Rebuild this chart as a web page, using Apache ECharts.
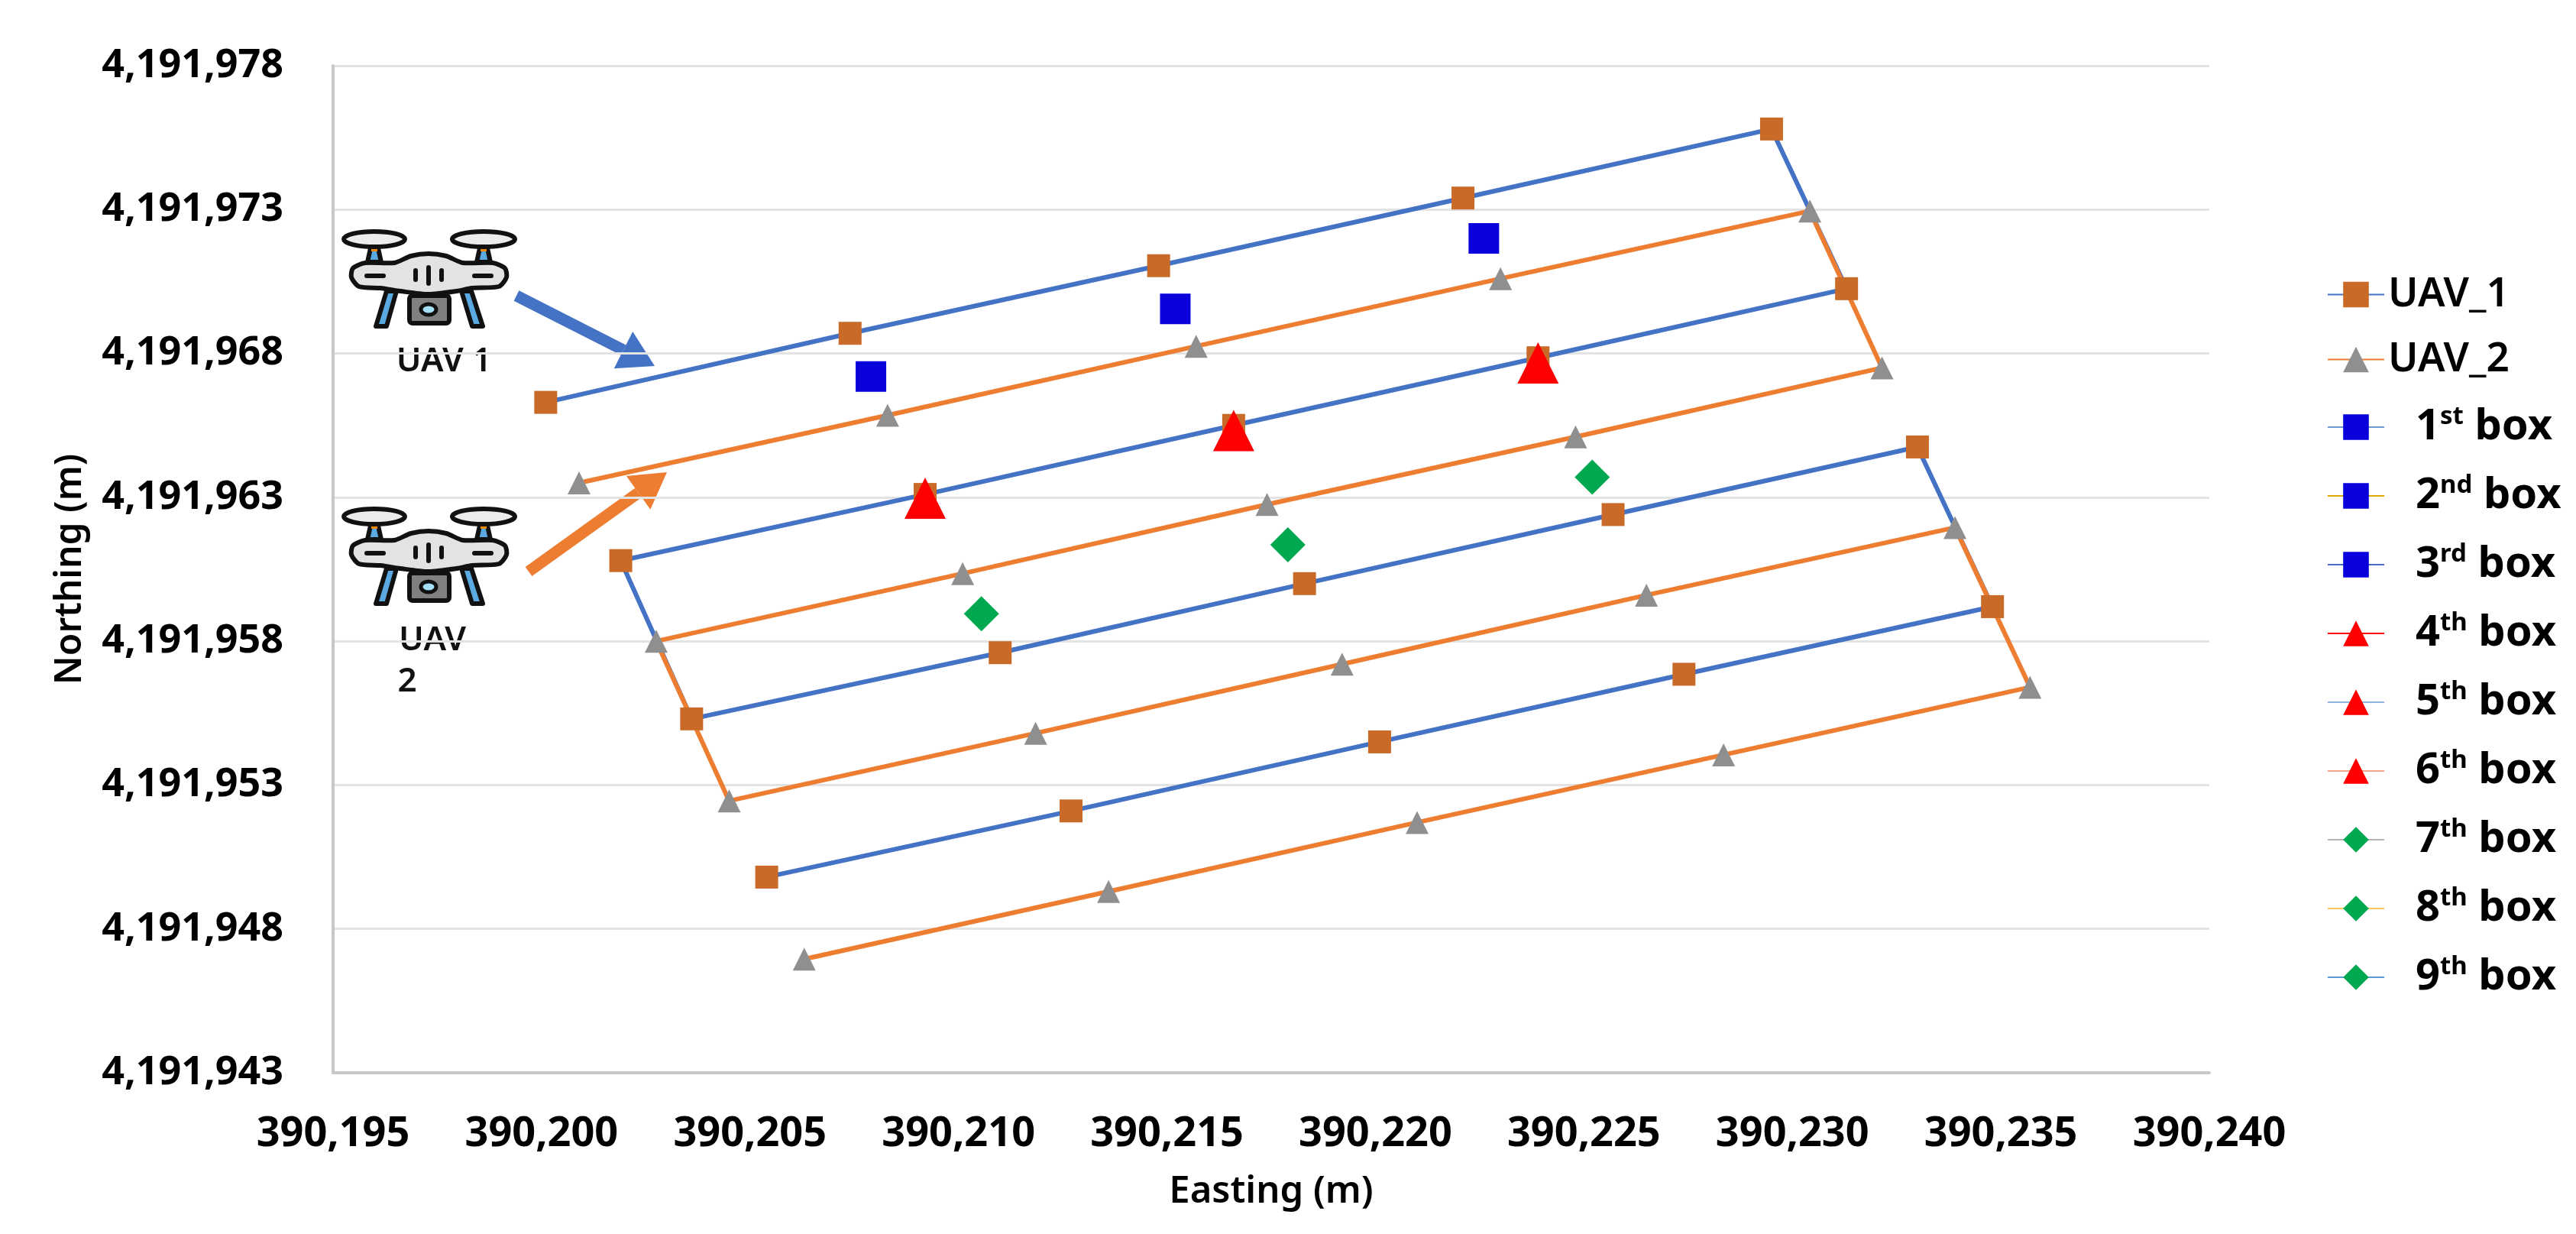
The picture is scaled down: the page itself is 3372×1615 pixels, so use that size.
<!DOCTYPE html>
<html>
<head>
<meta charset="utf-8">
<style>
  html, body { margin: 0; padding: 0; background: #fff; }
  #main { width: 3372px; height: 1615px; }
</style>
<script src="https://cdn.jsdelivr.net/npm/echarts@6/dist/echarts.min.js"></script>
</head>
<body>
<div id="main"></div>
<script>
// flight lines, in flight order
const uav1East = [390200.1, 390207.4, 390214.8, 390222.1, 390229.5, 390231.3, 390223.9, 390216.6, 390209.2, 390201.9, 390203.6, 390211.0, 390218.3, 390225.7, 390233.0, 390234.8, 390227.4, 390220.1, 390212.7, 390205.4];
const uav1North = [4191966.3, 4191968.7, 4191971.05, 4191973.4, 4191975.8, 4191970.25, 4191967.85, 4191965.5, 4191963.1, 4191960.8, 4191955.3, 4191957.6, 4191960, 4191962.4, 4191964.75, 4191959.2, 4191956.85, 4191954.5, 4191952.1, 4191949.8];
const uav2East = [390200.9, 390208.3, 390215.7, 390223, 390230.42, 390232.15, 390224.8, 390217.4, 390210.1, 390202.75, 390204.5, 390211.85, 390219.2, 390226.5, 390233.9, 390235.7, 390228.35, 390221, 390213.6, 390206.3];
const uav2North = [4191963.5, 4191965.85, 4191968.25, 4191970.6, 4191972.95, 4191967.5, 4191965.1, 4191962.75, 4191960.35, 4191958, 4191952.45, 4191954.8, 4191957.2, 4191959.6, 4191961.95, 4191956.4, 4191954.05, 4191951.7, 4191949.3, 4191946.95];

const boxNames = ['1st box', '2nd box', '3rd box', '4th box', '5th box', '6th box', '7th box', '8th box', '9th box'];
const boxEast = [390207.9, 390215.2, 390222.6, 390209.2, 390216.6, 390223.9, 390210.55, 390217.9, 390225.2];
const boxNorth = [4191967.2, 4191969.55, 4191972, 4191962.97, 4191965.32, 4191967.67, 4191958.95, 4191961.35, 4191963.7];
const boxLineColors = ['#6f9bd1', '#e0a800', '#4a6fc0', '#ff0000', '#8fb4e0', '#f4a58a', '#b5b5b5', '#ffc55c', '#5b9bd5'];

const eastTicks = [390195, 390200, 390205, 390210, 390215, 390220, 390225, 390230, 390235, 390240];
const northTicks = [4191943, 4191948, 4191953, 4191958, 4191963, 4191968, 4191973, 4191978];

const FONT = '"Noto Sans", sans-serif';

function zip(a, b) {
  return a.map((v, i) => [v, b[i]]);
}

function boxSeries(i) {
  let symbol = 'rect', color = '#0a00dc', size = 40;
  if (i >= 3 && i < 6) { symbol = 'triangle'; color = '#ff0000'; size = 54; }
  if (i >= 6) { symbol = 'diamond'; color = '#00a850'; size = 46; }
  return {
    name: boxNames[i],
    type: 'line',
    z: 5,
    symbol: symbol,
    symbolSize: size,
    itemStyle: { color: color },
    lineStyle: { color: boxLineColors[i], width: i === 3 ? 6 : 4 },
    data: [[boxEast[i], boxNorth[i]]],
  };
}

// legend text with the ordinal suffix raised
function legendText(name) {
  if (name.indexOf('UAV') === 0) return '{u|' + name + '}';
  const m = name.match(/^(\d)(\w+) box$/);
  return '{n|' + m[1] + '}{s|' + m[2] + '}{b| box}';
}

// the little quadcopter, in its own 227x131 box
function drone(x, y) {
  const ink = { stroke: '#111', lineWidth: 6 };
  const seg = (x1, y1, x2, y2) => ({ type: 'line', shape: { x1, y1, x2, y2 }, style: { stroke: '#111', lineWidth: 6, lineCap: 'round' } });
  return {
    type: 'group', x: x, y: y,
    children: [
      { type: 'polygon', shape: { points: [[33, 42], [37, 24], [47, 24], [51, 42]] }, style: Object.assign({ fill: '#5aa9e0' }, ink) },
      { type: 'polygon', shape: { points: [[176, 42], [180, 24], [190, 24], [194, 42]] }, style: Object.assign({ fill: '#5aa9e0' }, ink) },
      { type: 'rect', shape: { x: 38, y: 22, width: 8, height: 6 }, style: { fill: '#f08a00' } },
      { type: 'rect', shape: { x: 181, y: 22, width: 8, height: 6 }, style: { fill: '#f08a00' } },
      { type: 'ellipse', shape: { cx: 42, cy: 12, rx: 40, ry: 10 }, style: Object.assign({ fill: '#ececec' }, ink) },
      { type: 'ellipse', shape: { cx: 185, cy: 12, rx: 41, ry: 10 }, style: Object.assign({ fill: '#ececec' }, ink) },
      { type: 'polygon', shape: { points: [[58, 80], [71, 80], [58, 126], [44, 126]] }, style: Object.assign({ fill: '#5aa9e0', lineJoin: 'round' }, ink) },
      { type: 'polygon', shape: { points: [[156, 80], [169, 80], [184, 126], [170, 126]] }, style: Object.assign({ fill: '#5aa9e0', lineJoin: 'round' }, ink) },
      { type: 'rect', shape: { x: 88, y: 86, width: 52, height: 36, r: 4 }, style: Object.assign({ fill: '#808080' }, ink) },
      { type: 'ellipse', shape: { cx: 113, cy: 104, rx: 10, ry: 7 }, style: { fill: '#a5dff5', stroke: '#111', lineWidth: 5 } },
      {
        type: 'polygon',
        shape: { smooth: 0.25, points: [[14, 50], [30, 43], [68, 43], [90, 34], [113, 31], [136, 34], [158, 43], [197, 43], [213, 50], [215, 62], [205, 74], [170, 76], [150, 80], [113, 84], [76, 80], [50, 76], [22, 74], [12, 62]] },
        style: Object.assign({ fill: '#e3e3e3' }, ink),
      },
      seg(32, 60, 54, 60), seg(173, 60, 195, 60),
      seg(96, 53, 96, 65), seg(113, 49, 113, 70), seg(130, 53, 130, 65),
    ],
  };
}

function arrow(x1, y1, x2, y2, color) {
  const a = Math.atan2(y2 - y1, x2 - x1);
  const len = 46, half = 27;
  const bx = x2 - len * Math.cos(a), by = y2 - len * Math.sin(a);
  const nx = -Math.sin(a), ny = Math.cos(a);
  return {
    type: 'group',
    children: [
      { type: 'line', shape: { x1: x1, y1: y1, x2: bx, y2: by }, style: { stroke: color, lineWidth: 15 } },
      { type: 'polygon', shape: { points: [[x2, y2], [bx + nx * half, by + ny * half], [bx - nx * half, by - ny * half]] }, style: { fill: color } },
    ],
  };
}

function uavLabel(text, x, y) {
  return {
    type: 'text', x: x, y: y,
    style: { text: text, font: '600 44px ' + FONT, fill: '#111', textAlign: 'center', textVerticalAlign: 'middle' },
  };
}

const chart = echarts.init(document.getElementById('main'));

const axisText = { color: '#000', fontFamily: FONT, fontWeight: 700 };
const fmt = v => Number(v).toLocaleString('en-US');

chart.setOption({
  backgroundColor: '#fff',
  animation: false,
  grid: { left: 436, right: 480, top: 86, bottom: 211 },
  legend: {
    orient: 'vertical',
    left: 3046,
    top: 359,
    itemWidth: 74,
    itemHeight: 42,
    itemGap: 32,
    padding: 0,
    formatter: legendText,
    textStyle: {
      rich: {
        u: { fontFamily: FONT, fontSize: 53, fontWeight: 600, color: '#000', lineHeight: 60 },
        n: { fontFamily: FONT, fontSize: 56, fontWeight: 700, color: '#000', lineHeight: 60, padding: [0, 0, 0, 36] },
        b: { fontFamily: FONT, fontSize: 56, fontWeight: 700, color: '#000', lineHeight: 60 },
        s: { fontFamily: FONT, fontSize: 33, fontWeight: 700, color: '#000', lineHeight: 60, verticalAlign: 'top' },
      },
    },
    data: ['UAV_1', 'UAV_2'].concat(boxNames),
  },
  xAxis: {
    type: 'value',
    min: eastTicks[0],
    max: eastTicks[eastTicks.length - 1],
    interval: 5,
    name: 'Easting (m)',
    nameLocation: 'middle',
    nameGap: 132,
    nameTextStyle: { color: '#000', fontFamily: FONT, fontSize: 49, fontWeight: 600 },
    axisLine: { show: true, lineStyle: { color: '#c8c8c8', width: 4 } },
    axisTick: { show: false },
    splitLine: { show: false },
    axisLabel: Object.assign({ margin: 54, fontSize: 54, formatter: fmt, showMinLabel: true, showMaxLabel: true }, axisText),
  },
  yAxis: {
    type: 'value',
    min: northTicks[0],
    max: northTicks[northTicks.length - 1],
    name: 'Northing (m)',
    nameLocation: 'middle',
    nameGap: 320,
    nameTextStyle: { color: '#000', fontFamily: FONT, fontSize: 48, fontWeight: 600 },
    axisLine: { show: true, onZero: false, lineStyle: { color: '#c8c8c8', width: 4 } },
    axisTick: { show: false, customValues: northTicks },
    splitLine: { show: true, lineStyle: { color: '#e3e3e3', width: 3 } },
    axisLabel: Object.assign({ margin: 65, fontSize: 52, formatter: fmt, customValues: northTicks }, axisText),
  },
  series: [
    {
      name: 'UAV_1',
      type: 'line',
      symbol: 'rect',
      symbolSize: 30,
      itemStyle: { color: '#c96a28' },
      lineStyle: { color: '#4472c4', width: 6 },
      data: zip(uav1East, uav1North),
    },
    {
      name: 'UAV_2',
      type: 'line',
      symbol: 'triangle',
      symbolSize: 30,
      itemStyle: { color: '#8f8f8f' },
      lineStyle: { color: '#ed7d31', width: 6 },
      data: zip(uav2East, uav2North),
    },
  ].concat(boxNames.map((n, i) => boxSeries(i))),
  graphic: [
    drone(448, 301),
    drone(448, 664),
    uavLabel('UAV 1', 581, 473),
    uavLabel('UAV', 566, 838),
    uavLabel('2', 533, 892),
    arrow(676, 387, 857, 479, '#4472c4'),
    arrow(692, 748, 873, 618, '#ed7d31'),
  ],
});
</script>
</body>
</html>
